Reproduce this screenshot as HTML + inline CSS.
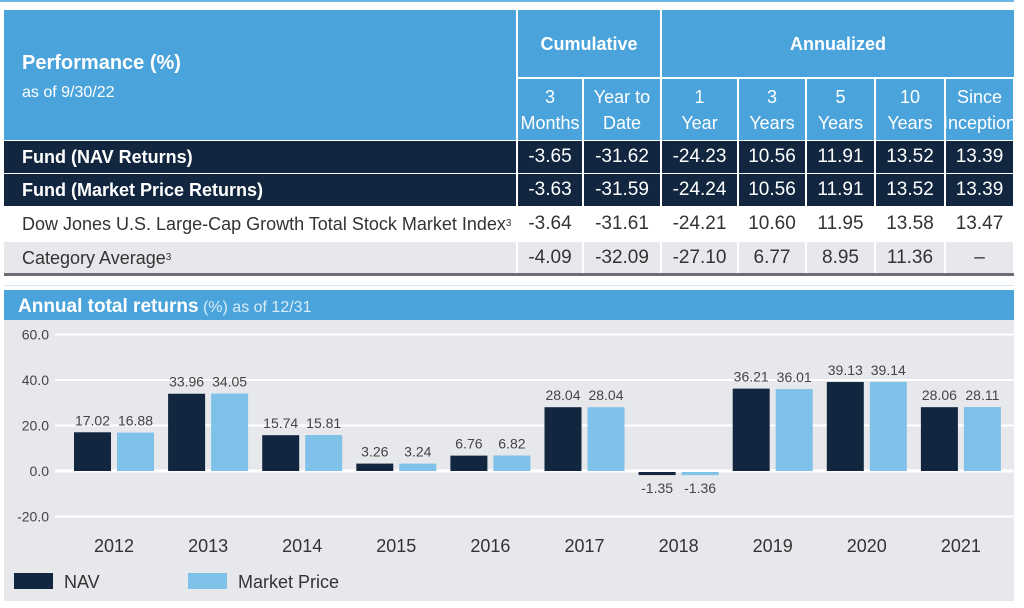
<!DOCTYPE html>
<html><head><meta charset="utf-8">
<style>
*{margin:0;padding:0;box-sizing:border-box}
body{width:1024px;height:608px;background:#fff;position:relative;overflow:hidden;font-family:"Liberation Sans Narrow","Liberation Sans",sans-serif;}
.c{position:absolute;display:flex;align-items:center;justify-content:center;text-align:center;line-height:26px;}
.hd{background:#4ba3db;color:#fff;}
.dk{background:#12263f;color:#fff;}
.wt{background:#fff;color:#333;}
.gy{background:#e6e8eb;color:#333;}
.v{font-size:19px;}
.lab{justify-content:flex-start;padding-left:18px;font-size:18px;}
</style></head>
<body>
<div style="position:absolute;left:0;top:0;width:1014px;height:2px;background:#6db6e3"></div>
<div id="tbl"></div>
<svg id="chart" width="1024" height="608" style="position:absolute;left:0;top:0"></svg>
<script>
// ---------- table ----------
const cols=[4,517,583,661,738,806,875,945,1014];
const rows=[
 {name:"Fund (NAV Returns)",cls:"dk",bold:true,vals:["-3.65","-31.62","-24.23","10.56","11.91","13.52","13.39"],y:141,h:32},
 {name:"Fund (Market Price Returns)",cls:"dk",bold:true,vals:["-3.63","-31.59","-24.24","10.56","11.91","13.52","13.39"],y:174,h:32},
 {name:"Dow Jones U.S. Large-Cap Growth Total Stock Market Index<sup style='font-size:10px'>3</sup>",cls:"wt",bold:false,vals:["-3.64","-31.61","-24.21","10.60","11.95","13.58","13.47"],y:207,h:34},
 {name:"Category Average<sup style='font-size:10px'>3</sup>",cls:"gy",bold:false,vals:["-4.09","-32.09","-27.10","6.77","8.95","11.36","–"],y:242,h:31}
];
const subH=[["3","Months"],["Year to","Date"],["1","Year"],["3","Years"],["5","Years"],["10","Years"],["Since","Inception"]];
let h='';
h+=`<div class="c hd" style="left:4px;top:10px;width:512px;height:130px;flex-direction:column;align-items:flex-start;justify-content:flex-start;padding:40px 0 0 18px;font-family:'Liberation Sans',sans-serif"><div style="font-size:20px;font-weight:bold">Performance (%)</div><div style="font-size:16px;margin-top:4px">as of 9/30/22</div></div>`;
h+=`<div class="c hd" style="left:518px;top:10px;width:142px;height:67px;font-size:18px;font-weight:bold">Cumulative</div>`;
h+=`<div class="c hd" style="left:662px;top:10px;width:352px;height:67px;font-size:18px;font-weight:bold">Annualized</div>`;
for(let i=0;i<7;i++){
 h+=`<div class="c hd" style="left:${cols[i+1]+1}px;top:79px;width:${cols[i+2]-cols[i+1]-2}px;height:61px;flex-direction:column;font-size:18px;line-height:26px;overflow:hidden;white-space:nowrap">${subH[i][0]}<br>${subH[i][1]}</div>`;
}
rows.forEach(r=>{
 h+=`<div class="c ${r.cls} lab" style="left:4px;top:${r.y}px;width:${r.cls=='wt'?512:512}px;height:${r.h}px;${r.bold?'font-weight:bold;':''}">${r.name}</div>`;
 r.vals.forEach((v,i)=>{
  h+=`<div class="c ${r.cls} v" style="left:${cols[i+1]+1}px;top:${r.y}px;width:${cols[i+2]-cols[i+1]-2}px;height:${r.h}px">${v}</div>`;
 });
});
h+=`<div style="position:absolute;left:4px;top:273px;width:1010px;height:3px;background:#6b6f75"></div>`;
h+=`<div style="position:absolute;left:4px;top:285px;width:1010px;height:1px;background:#d7e8f5"></div>`;
document.getElementById('tbl').innerHTML=h;
</script>
<script>
// ---------- chart ----------
const years=["2012","2013","2014","2015","2016","2017","2018","2019","2020","2021"];
const navVals=[17.02,33.96,15.74,3.26,6.76,28.04,-1.35,36.21,39.13,28.06];
const mpVals=[16.88,34.05,15.81,3.24,6.82,28.04,-1.36,36.01,39.14,28.11];
const yTicks=[60,40,20,0,-20];
const yTickLabels=["60.0","40.0","20.0","0.0","-20.0"];

const svg=document.getElementById('chart');
const NS='http://www.w3.org/2000/svg';
function yS(v){return 471-v*(45.5/20);}
function xC(i){return 114+i*94.1;}
function mk(t,a){const e=document.createElementNS(NS,t);for(const k in a)e.setAttribute(k,a[k]);svg.appendChild(e);return e;}
function tx(x,y,s,size,fill,anchor,w){const e=mk('text',{x:x,y:y,'font-size':size,fill:fill,'text-anchor':anchor||'middle','font-family':'"Liberation Sans Narrow","Liberation Sans",sans-serif'});if(w)e.setAttribute('font-weight',w);e.textContent=s;return e;}

const panel=mk('rect',{x:4,y:320,width:1010,height:281,fill:'#e6e8eb'});


const tb=mk('rect',{x:4,y:290,width:1010,height:30,fill:'#4ba3db'});


const tt=mk('text',{x:18,y:312,fill:'#fff','font-size':19,'font-family':'"Liberation Sans",sans-serif'});


tt.innerHTML='<tspan font-weight="bold">Annual total returns</tspan><tspan font-size="16" fill="#d8ecf8"> (%) as of 12/31</tspan>';

yTicks.forEach((v,i)=>{
 const l=mk('line',{x1:55,x2:1013,y1:yS(v),y2:yS(v),stroke:'#fff','stroke-width':v===0?3:2});
 
 
 const t=tx(49,yS(v)+5,yTickLabels[i],14,'#444','end');
 
 
});
const bw=37;
years.forEach((y,i)=>{
 [[navVals[i],'#12263f',-bw-3],[mpVals[i],'#7fc1e8',3]].forEach(([v,c,off],j)=>{
  const x=xC(i)+off;
  const top=Math.min(yS(v),yS(0)-1), hh=Math.max(Math.abs(yS(v)-yS(0)),2);
  const r=mk('rect',{x:x,y:v>=0?top:yS(0)+1,width:bw,height:hh,fill:c});
  
  
  const ly=v>=0?yS(v)-7:yS(0)+22;
  const t=tx(x+bw/2,ly,v.toFixed(2),14,'#444');
  
  
 });
 const t=tx(xC(i),552,y,18,'#333');
 
 
});
const l1=mk('rect',{x:14,y:573,width:39,height:16,fill:'#12263f'});


const lt1=tx(64,588,'NAV',18,'#333','start');


const l2=mk('rect',{x:188,y:573,width:39,height:16,fill:'#7fc1e8'});


const lt2=tx(238,588,'Market Price',18,'#333','start');


</script>
</body></html>
